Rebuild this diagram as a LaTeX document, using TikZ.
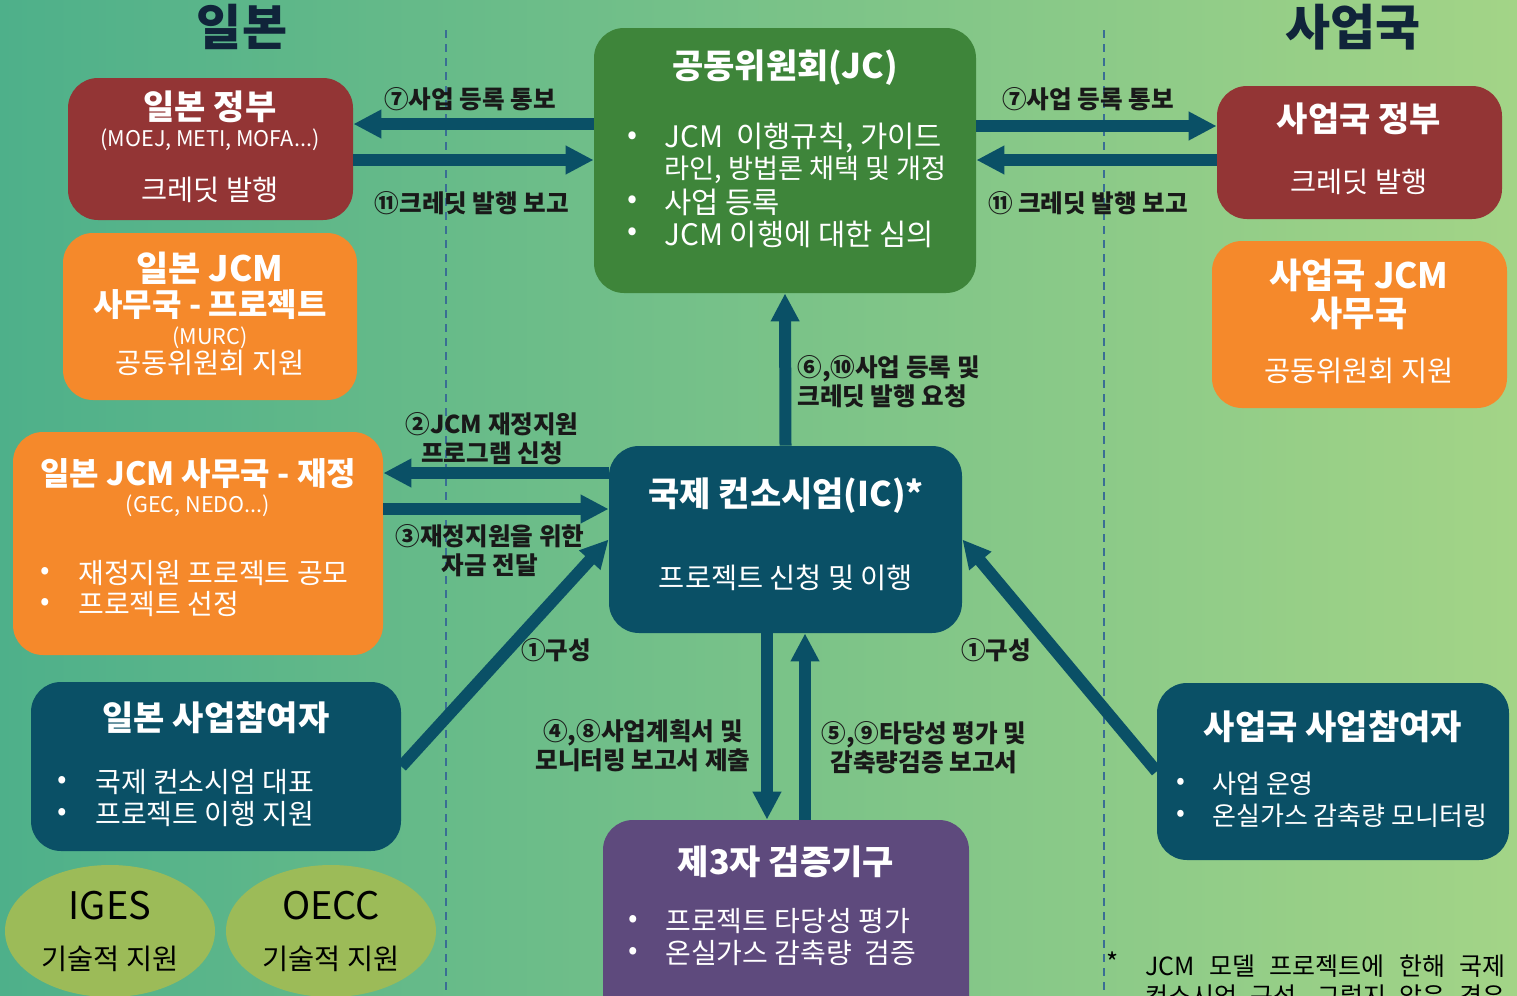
\documentclass[tikz,border=0pt]{standalone}
\usepackage{fontspec}
\setmainfont{Noto Sans CJK KR}
\usetikzlibrary{arrows.meta,fit,shapes.geometric}

\definecolor{bgleft}{RGB}{78,176,138}
\definecolor{bgmid}{RGB}{124,194,140}
\definecolor{bgright}{RGB}{163,212,135}
\definecolor{govred}{RGB}{147,53,53}
\definecolor{secorange}{RGB}{245,137,43}
\definecolor{deepteal}{RGB}{10,80,102}
\definecolor{jcgreen}{RGB}{62,133,58}
\definecolor{tpepurple}{RGB}{94,74,125}
\definecolor{olive}{RGB}{156,187,88}
\definecolor{dashblue}{RGB}{58,110,148}
\definecolor{titleblue}{RGB}{16,36,58}

\begin{document}
\begin{tikzpicture}[x=0.5pt, y=-0.5pt,
    every node/.style={inner sep=0pt},
    box/.style={rounded corners=15pt},
    ttl/.style={text=white, font=\bfseries\fontsize{17}{20}\selectfont},
    sub/.style={text=white, font=\fontsize{14.2}{17}\selectfont},
    tiny/.style={text=white, font=\fontsize{10.8}{13}\selectfont},
    item/.style={text=white, anchor=west, font=\fontsize{14}{17}\selectfont},
    lbl/.style={text=black!90, align=center, font=\bfseries\fontsize{12.3}{14.5}\selectfont},
    fat/.style={draw=deepteal, line width=6pt, -{Triangle[length=14pt, width=13.5pt]}},
    sep/.style={draw=dashblue, line width=0.8pt, dash pattern=on 4pt off 3pt}]

    % Background
    \useasboundingbox (0,0) rectangle (1517,996);
    \clip (0,0) rectangle (1517,996);
    \shade[left color=bgleft, middle color=bgmid, right color=bgright] (0,0) rectangle (1517,996);

    % Borders between sides
    \draw[sep] (446,30) -- (446,996);
    \draw[sep] (1104,30) -- (1104,996);

    % Side headings
    \node[text=titleblue, font=\bfseries\fontsize{24.5}{29}\selectfont] (jphead) at (242,27) {일본};
    \node[text=titleblue, font=\bfseries\fontsize{24.5}{29}\selectfont] (hosthead) at (1353,27) {사업국};

    % Japan side
    \node[box, fill=govred, fit={(68,78) (353,220)}] (jpgov) {};
    \node[ttl] at (210,107) {일본 정부};
    \node[tiny] at (210,140) {(MOEJ, METI, MOFA...)};
    \node[sub] at (210,190) {크레딧 발행};

    \node[box, fill=secorange, fit={(63,233) (357,400)}] (jpsec) {};
    \node[ttl, font=\bfseries\fontsize{17.5}{20}\selectfont] at (210,268) {일본 JCM};
    \node[ttl, font=\bfseries\fontsize{16}{19}\selectfont] at (210,305) {사무국 - 프로젝트};
    \node[tiny] at (210,338) {(MURC)};
    \node[sub] at (210,363) {공동위원회 지원};

    \node[box, fill=secorange, fit={(13,432) (383,655)}] (jpfin) {};
    \node[ttl, font=\bfseries\fontsize{16}{19}\selectfont] at (198,474) {일본 JCM 사무국 - 재정};
    \node[tiny] at (198,506) {(GEC, NEDO...)};
    \node[item] at (40,573) {•};
    \node[item] at (78,573) {재정지원 프로젝트 공모};
    \node[item] at (40,604) {•};
    \node[item] at (78,604) {프로젝트 선정};

    \node[box, fill=deepteal, fit={(31,682) (401,851)}] (jppart) {};
    \node[ttl] at (216,718) {일본 사업참여자};
    \node[item] at (57,782) {•};
    \node[item] at (95,782) {국제 컨소시엄 대표};
    \node[item] at (57,814) {•};
    \node[item] at (95,814) {프로젝트 이행 지원};

    \node[ellipse, fill=olive, minimum width=105pt, minimum height=66pt] (iges) at (110,931) {};
    \node[font=\fontsize{19}{22}\selectfont] at (110,906) {IGES};
    \node[font=\fontsize{14.2}{17}\selectfont] at (110,959) {기술적 지원};
    \node[ellipse, fill=olive, minimum width=105pt, minimum height=66pt] (oecc) at (331,931) {};
    \node[font=\fontsize{19}{22}\selectfont] at (331,906) {OECC};
    \node[font=\fontsize{14.2}{17}\selectfont] at (331,959) {기술적 지원};

    % Centre column
    \node[box, fill=jcgreen, fit={(594,28) (976,293)}] (jc) {};
    \node[ttl] at (785,68) {공동위원회(JC)};
    \node[item, font=\fontsize{14.8}{17}\selectfont] at (627,138) {•};
    \node[item, font=\fontsize{14.8}{17}\selectfont] at (664,138) {JCM\ \ 이행규칙,\ 가이드};
    \node[item, font=\fontsize{13.6}{17}\selectfont] at (664,170) {라인, 방법론 채택 및 개정};
    \node[item, font=\fontsize{14.8}{17}\selectfont] at (627,202) {•};
    \node[item, font=\fontsize{14.8}{17}\selectfont] at (664,202) {사업 등록};
    \node[item, font=\fontsize{14.8}{17}\selectfont] at (627,234) {•};
    \node[item, font=\fontsize{14.8}{17}\selectfont] at (664,234) {JCM 이행에 대한 심의};

    \node[box, fill=deepteal, fit={(609,446) (962,633)}] (ic) {};
    \node[ttl] at (786,496) {국제 컨소시엄(IC)*};
    \node[sub] at (786,578) {프로젝트 신청 및 이행};

    \node[box, fill=tpepurple, fit={(603,820) (969,1030)}] (tpe) {};
    \node[ttl] at (786,862) {제3자 검증기구};
    \node[item] at (628,921) {•};
    \node[item] at (665,921) {프로젝트 타당성 평가};
    \node[item] at (628,953) {•};
    \node[item] at (665,953) {온실가스 감축량\ \ 검증};

    % Host country side
    \node[box, fill=govred, fit={(1217,86) (1502,219)}] (hgov) {};
    \node[ttl] at (1359,119) {사업국 정부};
    \node[sub] at (1359,182) {크레딧 발행};

    \node[box, fill=secorange, fit={(1212,241) (1507,408)}] (hsec) {};
    \node[ttl, font=\bfseries\fontsize{17.5}{20}\selectfont] at (1359,275) {사업국 JCM};
    \node[ttl, font=\bfseries\fontsize{17.5}{20}\selectfont] at (1359,313) {사무국};
    \node[sub] at (1359,371) {공동위원회 지원};

    \node[box, fill=deepteal, fit={(1157,683) (1509,860)}] (hpart) {};
    \node[ttl] at (1333,727) {사업국 사업참여자};
    \node[item, font=\fontsize{13}{16}\selectfont] at (1176,784) {•};
    \node[item, font=\fontsize{13}{16}\selectfont] at (1212,784) {사업 운영};
    \node[item, font=\fontsize{13}{16}\selectfont] at (1176,816) {•};
    \node[item, font=\fontsize{13}{16}\selectfont] at (1212,816) {온실가스 감축량 모니터링};

    % Flows
    \draw[fat] (jc.west |- 0,124) -- (jpgov.east |- 0,124);
    \draw[fat] (jpgov.east |- 0,160) -- (jc.west |- 0,160);
    \draw[fat] (jc.east |- 0,126) -- (hgov.west |- 0,126);
    \draw[fat] (hgov.west |- 0,160) -- (jc.east |- 0,160);
    \draw[fat] (ic.west |- 0,473) -- (jpfin.east |- 0,473);
    \draw[fat] (jpfin.east |- 0,509) -- (ic.west |- 0,509);
    \draw[fat] (ic.north) -- (jc.south);
    \draw[fat] (jppart.east) -- (ic.west);
    \draw[fat] (hpart.west) -- (ic.east);
    \draw[fat] (ic.south -| 767,0) -- (tpe.north -| 767,0);
    \draw[fat] (tpe.north -| 805,0) -- (ic.south -| 805,0);

    % Flow labels
    \node[lbl] at (470,99) {⑦사업 등록 통보};
    \node[lbl] at (472,203) {⑪크레딧 발행 보고};
    \node[lbl] at (1088,99) {⑦사업 등록 통보};
    \node[lbl] at (1088,203) {⑪ 크레딧 발행 보고};
    \node[lbl, anchor=west, align=left] at (797,382) {⑥,⑩사업 등록 및\\크레딧 발행 요청};
    \node[lbl] at (492,439) {②JCM 재정지원\\프로그램 신청};
    \node[lbl] at (490,551) {③재정지원을 위한\\자금 전달};
    \node[lbl] at (556,650) {①구성};
    \node[lbl] at (996,650) {①구성};
    \node[lbl] at (643,746) {④,⑧사업계획서 및\\모니터링 보고서 제출};
    \node[lbl] at (924,748) {⑤,⑨타당성 평가 및\\감축량검증 보고서};

    % Footnote
    \node[font=\fontsize{13}{16}\selectfont] at (1113,962) {*};
    \node[anchor=west, font=\fontsize{12.5}{15}\selectfont] (note) at (1145,966)
        {\hbox to 180pt{JCM\hfill 모델\hfill 프로젝트에\hfill 한해\hfill 국제}};
    \node[anchor=west, font=\fontsize{12.5}{15}\selectfont] at (1145,998)
        {\hbox to 180pt{컨소시엄\hfill 구성,\hfill 그렇지\hfill 않은\hfill 경우}};
\end{tikzpicture}
\end{document}
